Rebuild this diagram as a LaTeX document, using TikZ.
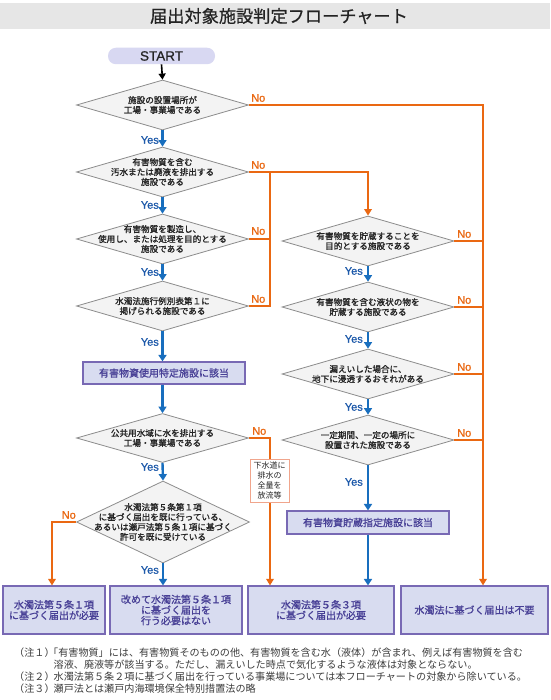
\documentclass[tikz,border=0pt]{standalone}
\usepackage{fontspec}
\setmainfont{Noto Sans CJK JP}
\newfontfamily\jpb[FakeBold=1.2]{Noto Sans CJK JP}
\newfontfamily\jpm[FakeBold=0.6]{Noto Sans CJK JP}
\newfontfamily\lat{Liberation Sans}
\newfontfamily\latb[FakeBold=0.8]{Liberation Sans}
\usetikzlibrary{shapes.geometric,arrows.meta}
\definecolor{orng}{RGB}{234,104,18}
\definecolor{blu}{RGB}{24,110,190}
\definecolor{yesc}{RGB}{30,90,170}
\definecolor{diafill}{RGB}{243,243,243}
\definecolor{diadraw}{RGB}{140,140,140}
\definecolor{boxfill}{RGB}{216,220,240}
\definecolor{boxdraw}{RGB}{120,105,180}
\definecolor{boxtext}{RGB}{72,64,150}
\definecolor{startfill}{RGB}{216,216,242}
\definecolor{band}{RGB}{230,230,230}
\definecolor{txt}{RGB}{35,35,35}
\definecolor{notec}{RGB}{60,60,60}
\definecolor{salmon}{RGB}{240,165,140}
\begin{document}
\begin{tikzpicture}[x=1pt,y=-1pt,
 dia/.style={shape=diamond, draw=diadraw, fill=diafill, line width=0.8pt, inner sep=0pt, minimum width=172pt, minimum height=50pt},
 dtext/.style={font=\jpb\fontsize{8.6}{9.9}\selectfont, text=txt, align=center, inner sep=0pt},
 pbox/.style={draw=boxdraw, fill=boxfill, line width=1.2pt, inner sep=0pt, text=boxtext, align=center, font=\jpb\fontsize{10}{10.6}\selectfont},
 yesarr/.style={draw=blu, line width=2.4pt, -{Triangle[width=8pt,length=6.5pt]}},
 noline/.style={draw=orng, line width=2pt},
 noarr/.style={noline, -{Triangle[width=7.5pt,length=6.5pt]}},
 yeslab/.style={font=\latb\fontsize{11}{12}\selectfont, text=yesc, inner sep=0pt, anchor=east},
 nolab/.style={font=\latb\fontsize{11}{12}\selectfont, text=orng, inner sep=0pt, anchor=west},
 notetext/.style={font=\fontsize{10.1}{12}\selectfont, text=notec, inner sep=0pt, anchor=west},
]
\useasboundingbox (0,0) rectangle (550,700);
\fill[white] (0,0) rectangle (550,700);

% title
\node[fill=band, minimum width=550pt, minimum height=26pt, inner sep=0pt] (band) at (275,16) {};
\node[font=\jpm\fontsize{17.2}{20}\selectfont, text=txt, inner sep=0pt] (title) at (279,16) {届出対象施設判定フローチャート};

% start
\node[fill=startfill, rounded corners=8pt, minimum width=107pt, minimum height=16.5pt, inner sep=0pt,
      font=\latb\fontsize{13.5}{14}\selectfont, text=txt] (start) at (161.5,56) {START};

% helper columns
\coordinate (lc) at (270,0);
\coordinate (rc) at (483,0);
\coordinate (bc) at (52,0);

% left column diamonds
\node[dia, label={[dtext]center:{施設の設置場所が\\工場・事業場である}}] (d1) at (162.5,105) {};
\node[dia, label={[dtext]center:{有害物質を含む\\汚水または廃液を排出する\\施設である}}] (d2) at (162.5,172) {};
\node[dia, label={[dtext]center:{有害物質を製造し、\\使用し、または処理を目的とする\\施設である}}] (d3) at (162.5,239) {};
\node[dia, label={[dtext]center:{水濁法施行例別表第１に\\掲げられる施設である}}] (d4) at (162.5,306) {};
\node[pbox, minimum width=162pt, minimum height=22pt] (usebox) at (164,373) {有害物資使用特定施設に該当};
\node[dia, minimum height=49pt, label={[dtext]center:{公共用水域に水を排出する\\工場・事業場である}}] (d5) at (162.5,438) {};
\node[dia, minimum width=173pt, minimum height=82pt, label={[dtext]center:{水濁法第５条第１項\\に基づく届出を既に行っている、\\あるいは瀬戸法第５条１項に基づく\\許可を既に受けている}}] (d6) at (163,522) {};

% right column diamonds
\node[dia, label={[dtext]center:{有害物質を貯蔵することを\\目的とする施設である}}] (d7) at (368,241) {};
\node[dia, label={[dtext]center:{有害物質を含む液状の物を\\貯蔵する施設である}}] (d8) at (368,307) {};
\node[dia, label={[dtext]center:{漏えいした場合に、\\地下に浸透するおそれがある}}] (d9) at (368,374) {};
\node[dia, label={[dtext]center:{一定期間、一定の場所に\\設置された施設である}}] (d10) at (368,440) {};
\node[pbox, minimum width=162pt, minimum height=23pt] (sbox) at (368,522.5) {有害物資貯蔵指定施設に該当};

% bottom boxes
\node[pbox, minimum width=102pt, minimum height=48pt] (b1) at (54,610) {水濁法第５条１項\\に基づく届出が必要};
\node[pbox, minimum width=132pt, minimum height=48pt] (b2) at (176,610) {改めて水濁法第５条１項\\に基づく届出を\\行う必要はない};
\node[pbox, minimum width=146pt, minimum height=48pt] (b3) at (321,610) {水濁法第５条３項\\に基づく届出が必要};
\node[pbox, minimum width=147pt, minimum height=48pt] (b4) at (474.5,610) {水濁法に基づく届出は不要};

% black start arrow
\draw[line width=1.6pt, -{Triangle[width=7pt,length=6pt]}] (start.south) -- (d1.north);

% orange (No) connectors
\draw[noarr] (d1.east) -| (rc |- b4.north);
\draw[noarr] (d2.east) -| (d7.north);
\draw[noline] (d3.east) -- (d3.east -| lc);
\draw[noline] (d4.east) -| (lc |- d2.east);
\draw[noarr] (d5.east) -| (lc |- b3.north);
\draw[noarr] (d6.west) -| (bc |- b1.north);
\draw[noline] (d7.east) -- (d7.east -| rc);
\draw[noline] (d8.east) -- (d8.east -| rc);
\draw[noline] (d9.east) -- (d9.east -| rc);
\draw[noline] (d10.east) -- (d10.east -| rc);

% blue (Yes) connectors
\draw[yesarr] (d1.south) -- (d2.north);
\draw[yesarr] (d2.south) -- (d3.north);
\draw[yesarr] (d3.south) -- (d4.north);
\draw[yesarr] (d4.south) -- (d4.south |- usebox.north);
\draw[yesarr] (usebox.south -| d5.north) -- (d5.north);
\draw[yesarr] (d5.south) -- (d6.north);
\draw[yesarr] (d6.south) -- (d6.south |- b2.north);
\draw[yesarr] (d7.south) -- (d8.north);
\draw[yesarr] (d8.south) -- (d9.north);
\draw[yesarr] (d9.south) -- (d10.north);
\draw[yesarr] (d10.south) -- (sbox.north);
\draw[yesarr] (sbox.south) -- (sbox.south |- b3.north);

% sewer note box on the No line
\node[draw=salmon, fill=white, line width=0.8pt, minimum width=39pt, minimum height=43pt, inner sep=0pt,
      align=center, font=\fontsize{8}{9.7}\selectfont, text=txt] (gesui) at (269.5,480.5) {下水道に\\排水の\\全量を\\放流等};

% Yes labels
\node[yeslab] (y1) at (159,140) {Yes};
\node[yeslab] (y2) at (159,205) {Yes};
\node[yeslab] (y3) at (159,272) {Yes};
\node[yeslab] (y4) at (159,342) {Yes};
\node[yeslab] (y5) at (159,467) {Yes};
\node[yeslab] (y6) at (159,570) {Yes};
\node[yeslab] (y7) at (363,271) {Yes};
\node[yeslab] (y8) at (363,339) {Yes};
\node[yeslab] (y9) at (363,407) {Yes};
\node[yeslab] (y10) at (363,482) {Yes};

% No labels
\node[nolab] (n1) at (251,98) {No};
\node[nolab] (n2) at (251,165) {No};
\node[nolab] (n3) at (251,231) {No};
\node[nolab] (n4) at (251,299) {No};
\node[nolab] (n5) at (252,431) {No};
\node[nolab, anchor=east] (n6) at (76,515) {No};
\node[nolab] (n7) at (457,234) {No};
\node[nolab] (n8) at (457,300) {No};
\node[nolab] (n9) at (457,367) {No};
\node[nolab] (n10) at (457,433) {No};

% notes
\node[notetext] (nl1) at (14,653) {（注１）};
\node[notetext] (nt1) at (48,653) {「有害物質」には、有害物質そのものの他、有害物質を含む水（液体）が含まれ、例えば有害物質を含む};
\node[notetext] (nt2) at (53.5,665) {溶液、廃液等が該当する。ただし、漏えいした時点で気化するような液体は対象とならない。};
\node[notetext] (nl3) at (14,677) {（注２）};
\node[notetext] (nt3) at (53.5,677) {水濁法第５条２項に基づく届出を行っている事業場については本フローチャートの対象から除いている。};
\node[notetext] (nl4) at (14,689) {（注３）};
\node[notetext] (nt4) at (53.5,689) {瀬戸法とは瀬戸内海環境保全特別措置法の略};
\end{tikzpicture}
\end{document}
